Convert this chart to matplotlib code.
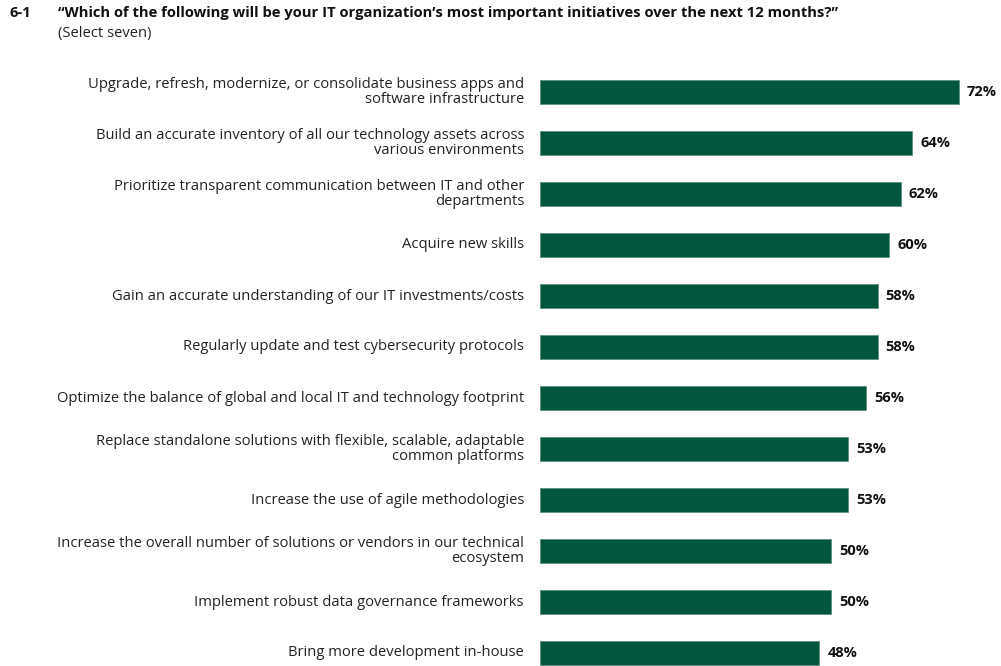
import matplotlib
matplotlib.use("Agg")
import matplotlib.pyplot as plt

categories = [
    "Upgrade, refresh, modernize, or consolidate business apps and\nsoftware infrastructure",
    "Build an accurate inventory of all our technology assets across\nvarious environments",
    "Prioritize transparent communication between IT and other\ndepartments",
    "Acquire new skills",
    "Gain an accurate understanding of our IT investments/costs",
    "Regularly update and test cybersecurity protocols",
    "Optimize the balance of global and local IT and technology footprint",
    "Replace standalone solutions with flexible, scalable, adaptable\ncommon platforms",
    "Increase the use of agile methodologies",
    "Increase the overall number of solutions or vendors in our technical\necosystem",
    "Implement robust data governance frameworks",
    "Bring more development in-house",
]
values = [72, 64, 62, 60, 58, 58, 56, 53, 53, 50, 50, 48]

title_num = "6-1"
title = "\u201cWhich of the following will be your IT organization\u2019s most important initiatives over the next 12 months?\u201d"
subtitle = "(Select seven)"

BAR = "#03563E"
TXT = "#222222"
FONT = "Open Sans"

W, H = 1001, 666
fig = plt.figure(figsize=(W / 100, H / 100), dpi=100)
fig.patch.set_facecolor("white")

ax_left, ax_right = 540, 1001
ax_top, ax_bot = 66.5, 666
ax = fig.add_axes([ax_left / W, 1 - ax_bot / H, (ax_right - ax_left) / W, (ax_bot - ax_top) / H])

px_per_unit = 5.82
ax.set_xlim(0, (ax_right - ax_left) / px_per_unit)
spacing = 51
ax.set_ylim((ax_bot - 92) / spacing, -(92 - ax_top) / spacing)

ypos = list(range(len(values)))
ax.barh(ypos, values, height=24 / spacing, color=BAR, edgecolor="#5e8f80", linewidth=0.6)

for y, v, c in zip(ypos, values, categories):
    ax.text(v + 8 / px_per_unit, y, f"{v}%", va="center", ha="left",
            fontsize=10.5, fontweight="bold", color="#111111", family=FONT)
    ax.text(-16 / px_per_unit, y, c, va="center", ha="right", fontsize=10.65,
            color=TXT, family=FONT, linespacing=1.08)

ax.axis("off")

fig.text(9 / W, 1 - 13 / H, title_num, fontsize=10.6, fontweight="bold",
         color="#111111", family=FONT, va="center", ha="left")
fig.text(58 / W, 1 - 13 / H, title, fontsize=10.6, fontweight="bold",
         color="#111111", family=FONT, va="center", ha="left")
fig.text(58 / W, 1 - 33 / H, subtitle, fontsize=10.65,
         color=TXT, family=FONT, va="center", ha="left")

fig.savefig("out.png", dpi=100, facecolor="white")
